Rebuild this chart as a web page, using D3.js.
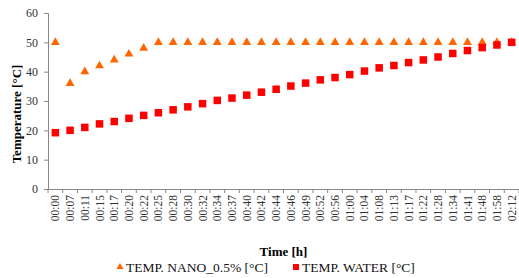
<!DOCTYPE html>
<html>
<head>
<meta charset="utf-8">
<script src="https://cdn.jsdelivr.net/npm/d3@7"></script>
<style>
  body { margin: 0; background: #fff; }
</style>
</head>
<body>
<div id="chart"></div>
<script>
// Data
const times = ["00:00","00:07","00:11","00:15","00:17","00:20","00:22","00:25","00:28","00:30",
  "00:32","00:34","00:37","00:40","00:42","00:44","00:46","00:49","00:52","00:56",
  "01:00","01:04","01:08","01:13","01:17","01:22","01:28","01:34","01:41","01:48","01:58","02:12"];
const tempNano = [50,36,40,42,44,46,48,50,50,50,50,50,50,50,50,50,50,50,50,50,
  50,50,50,50,50,50,50,50,50,50,50,50];
const tempWater = [19.2,20,21,22.2,23,24.1,25.1,26,27,28,29.1,30.2,31,32,33,34,35.1,36.1,37.2,38,
  39,40.2,41.3,42.1,43.1,44,45,46.2,47.2,48.2,49.1,50];
const yTicks = [0,10,20,30,40,50,60];

const W = 519, H = 278;
const margin = {top: 13, right: 0, bottom: 89, left: 48};
const FONT = "Liberation Serif";

const svg = d3.select("#chart").append("svg")
  .attr("width", W).attr("height", H)
  .attr("font-family", FONT);

// Scales
const x = d3.scaleBand()
  .domain(times)
  .range([margin.left, W - margin.right]);
const y = d3.scaleLinear()
  .domain([0, 60])
  .range([H - margin.bottom, margin.top]);

// Y axis
const yAxis = svg.append("g")
  .attr("transform", `translate(${margin.left},0)`)
  .call(d3.axisLeft(y).tickValues(yTicks).tickSize(4).tickPadding(6));
yAxis.attr("font-family", FONT);
yAxis.select(".domain").attr("stroke", "#888");
yAxis.selectAll(".tick line").attr("stroke", "#888");
yAxis.selectAll(".tick text")
  .attr("font-family", FONT)
  .attr("font-size", 12).attr("fill", "#333");

// X axis (ticks at category boundaries)
const xAxis = svg.append("g")
  .attr("transform", `translate(0,${y(0)})`)
  .call(d3.axisBottom(x).tickSize(0).tickSizeOuter(0));
xAxis.attr("font-family", FONT);
xAxis.select(".domain").attr("stroke", "#888");
xAxis.selectAll(".tick text")
  .attr("font-family", FONT)
  .attr("font-size", 11.5).attr("fill", "#333")
  .attr("text-anchor", "end")
  .attr("transform", "rotate(-90)")
  .attr("x", -6).attr("y", 0).attr("dy", "0.35em");
xAxis.selectAll("line.bound")
  .data(d3.range(times.length + 1))
  .join("line")
  .attr("class", "bound")
  .attr("x1", i => margin.left + i * x.step())
  .attr("x2", i => margin.left + i * x.step())
  .attr("y1", 0).attr("y2", 4)
  .attr("stroke", "#888");

// Axis titles
svg.append("text")
  .attr("x", (margin.left + W) / 2)
  .attr("y", 256)
  .attr("text-anchor", "middle")
  .attr("font-family", FONT)
  .attr("font-weight", "bold")
  .attr("font-size", 13)
  .text("Time [h]");

svg.append("text")
  .attr("transform", "rotate(-90)")
  .attr("x", -114)
  .attr("y", 21)
  .attr("text-anchor", "middle")
  .attr("font-family", FONT)
  .attr("font-weight", "bold")
  .attr("font-size", 13)
  .text("Temperature [°C]");

// Markers
const tri = d3.symbol().type(d3.symbolTriangle).size(34);
svg.selectAll("path.nano")
  .data(tempNano)
  .join("path")
  .attr("class", "nano")
  .attr("d", tri)
  .attr("transform", (d, i) => `translate(${x(times[i]) + x.bandwidth() / 2},${y(d)})`)
  .attr("fill", "#ff6600");

const sq = 7.5;
svg.selectAll("rect.water")
  .data(tempWater)
  .join("rect")
  .attr("class", "water")
  .attr("x", (d, i) => x(times[i]) + x.bandwidth() / 2 - sq / 2)
  .attr("y", d => y(d) - sq / 2)
  .attr("width", sq).attr("height", sq)
  .attr("fill", "#ff0000");

// Legend
const leg = svg.append("g").attr("font-family", FONT).attr("font-size", 13.5).attr("fill", "#111");
leg.append("path")
  .attr("d", d3.symbol().type(d3.symbolTriangle).size(22))
  .attr("transform", "translate(120,267)")
  .attr("fill", "#ff6600");
leg.append("text").attr("x", 126).attr("y", 272).text("TEMP. NANO_0.5% [°C]");
leg.append("rect")
  .attr("x", 293).attr("y", 264).attr("width", 6).attr("height", 6)
  .attr("fill", "#ff0000");
leg.append("text").attr("x", 302).attr("y", 272).text("TEMP. WATER [°C]");
</script>
</body>
</html>
